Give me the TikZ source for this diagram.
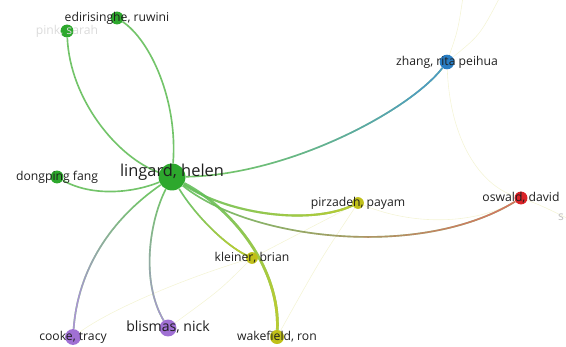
\documentclass[tikz,border=0pt]{standalone}
\usepackage{fontspec}
\setmainfont{Open Sans}
\usetikzlibrary{backgrounds, fadings}

\definecolor{grn}{RGB}{45,168,45}
\definecolor{blu}{RGB}{40,125,195}
\definecolor{rd}{RGB}{218,35,40}
\definecolor{ylw}{RGB}{192,192,25}
\definecolor{prp}{RGB}{160,112,212}
\definecolor{grnE}{RGB}{100,190,90}
\definecolor{bluE}{RGB}{75,150,205}
\definecolor{rdE}{RGB}{228,105,95}
\definecolor{ylwE}{RGB}{192,204,45}
\definecolor{prpE}{RGB}{175,145,220}

\tikzfading[name=fadeend, left color=transparent!100, right color=transparent!0]

\begin{document}
\begin{tikzpicture}[x=0.03cm, y=-0.03cm,
    dot/.style={circle, inner sep=0pt, minimum size=#1},
    lbl/.style={font=\fontsize{10.4}{12}\selectfont, text=black!88, inner sep=0pt},
    link/.style={line width=1.4pt, opacity=0.9},
    faint/.style={line width=0.5pt, draw=ylw!18}]
  \useasboundingbox (0,0) rectangle (566,347);

  % authors
  \node[dot=23pt, fill=grn] (lingard) at (172,177) {};
  \node[dot=11pt, fill=grn] (edir) at (117,18) {};
  \node[dot=11pt, fill=grn] (pink) at (67,31) {};
  \node[dot=11pt, fill=grn] (fang) at (57,177) {};
  \node[dot=12.5pt, fill=blu] (zhang) at (447,62) {};
  \node[dot=10pt, fill=ylw] (pirz) at (358,203) {};
  \node[dot=11pt, fill=rd] (oswald) at (521,198) {};
  \node[dot=10pt, fill=ylw] (kleiner) at (252,258) {};
  \node[dot=12pt, fill=ylw] (wake) at (277,337) {};
  \node[dot=13.5pt, fill=prp] (cooke) at (73,337) {};
  \node[dot=14.5pt, fill=prp] (blismas) at (168,328) {};
  \coordinate (topA) at (463,-3);
  \coordinate (topB) at (500,-3);
  \coordinate (cutS) at (575,222);

  % links
  \begin{scope}[on background layer]
    \draw[faint] (zhang) .. controls (458,30) .. (topA);
    \draw[faint] (zhang) .. controls (480,35) .. (topB);
    \draw[faint] (zhang) .. controls (450,140) and (480,185) .. (oswald);
    \draw[faint] (oswald) .. controls (540,205) .. (cutS);
    \draw[faint] (pirz) .. controls (420,228) and (480,222) .. (oswald);
    \draw[faint] (pirz) -- (kleiner);
    \draw[faint] (pirz) .. controls (320,260) .. (wake);
    \draw[faint] (kleiner) .. controls (220,290) .. (blismas);
    \draw[faint] (kleiner) .. controls (180,280) and (110,310) .. (cooke);

    \draw[link, grnE] (lingard) .. controls (178,100) and (150,40) .. (edir);
    \draw[link, grnE] (lingard) .. controls (118,158) and (70,100) .. (pink);
    \draw[link, grnE] (lingard) .. controls (130,194) and (90,196) .. (fang);

    \draw[link, grnE] (lingard) .. controls (290,175) and (410,110) .. (zhang);
    \draw[link, bluE, path fading=fadeend, fading angle=23]
      (lingard) .. controls (290,175) and (410,110) .. (zhang);
    \draw[link, grnE] (lingard) .. controls (250,240) and (420,260) .. (oswald);
    \draw[link, rdE, path fading=fadeend, fading angle=-3]
      (lingard) .. controls (250,240) and (420,260) .. (oswald);
    \draw[link, grnE, line width=1.8pt] (lingard) .. controls (230,215) and (310,225) .. (pirz);
    \draw[link, ylwE, line width=1.8pt, path fading=fadeend, fading angle=-8]
      (lingard) .. controls (230,215) and (310,225) .. (pirz);
    \draw[link, grnE] (lingard) .. controls (195,215) and (225,245) .. (kleiner);
    \draw[link, ylwE, path fading=fadeend, fading angle=-45]
      (lingard) .. controls (195,215) and (225,245) .. (kleiner);
    \draw[link, grnE, line width=2.3pt] (lingard) .. controls (235,210) and (280,270) .. (wake);
    \draw[link, ylwE, line width=2.3pt, path fading=fadeend, fading angle=-57]
      (lingard) .. controls (235,210) and (280,270) .. (wake);
    \draw[link, grnE] (lingard) .. controls (110,220) and (78,270) .. (cooke);
    \draw[link, prpE, path fading=fadeend, fading angle=-122]
      (lingard) .. controls (110,220) and (78,270) .. (cooke);
    \draw[link, grnE] (lingard) .. controls (150,220) and (140,280) .. (blismas);
    \draw[link, prpE, path fading=fadeend, fading angle=-92]
      (lingard) .. controls (150,220) and (140,280) .. (blismas);
  \end{scope}

  % names
  \node[lbl, font=\fontsize{14}{16}\selectfont] (lingard-t) at ([yshift=4pt]lingard) {lingard, helen};
  \node[lbl] (edir-t) at (edir) {edirisinghe, ruwini};
  \node[lbl, text=black!14] (pink-t) at (pink) {pink, sarah};
  \node[lbl] (fang-t) at (fang) {dongping fang};
  \node[lbl] (zhang-t) at (zhang) {zhang, rita peihua};
  \node[lbl] (pirz-t) at (pirz) {pirzadeh, payam};
  \node[lbl] (oswald-t) at (oswald) {oswald, david};
  \node[lbl, text=black!25] (s-t) at (561,217) {s};
  \node[lbl] (kleiner-t) at (kleiner) {kleiner, brian};
  \node[lbl] (wake-t) at (wake) {wakefield, ron};
  \node[lbl] (cooke-t) at (cooke) {cooke, tracy};
  \node[lbl, font=\fontsize{12}{14}\selectfont] (blismas-t) at ([yshift=1pt]blismas) {blismas, nick};
\end{tikzpicture}
\end{document}
